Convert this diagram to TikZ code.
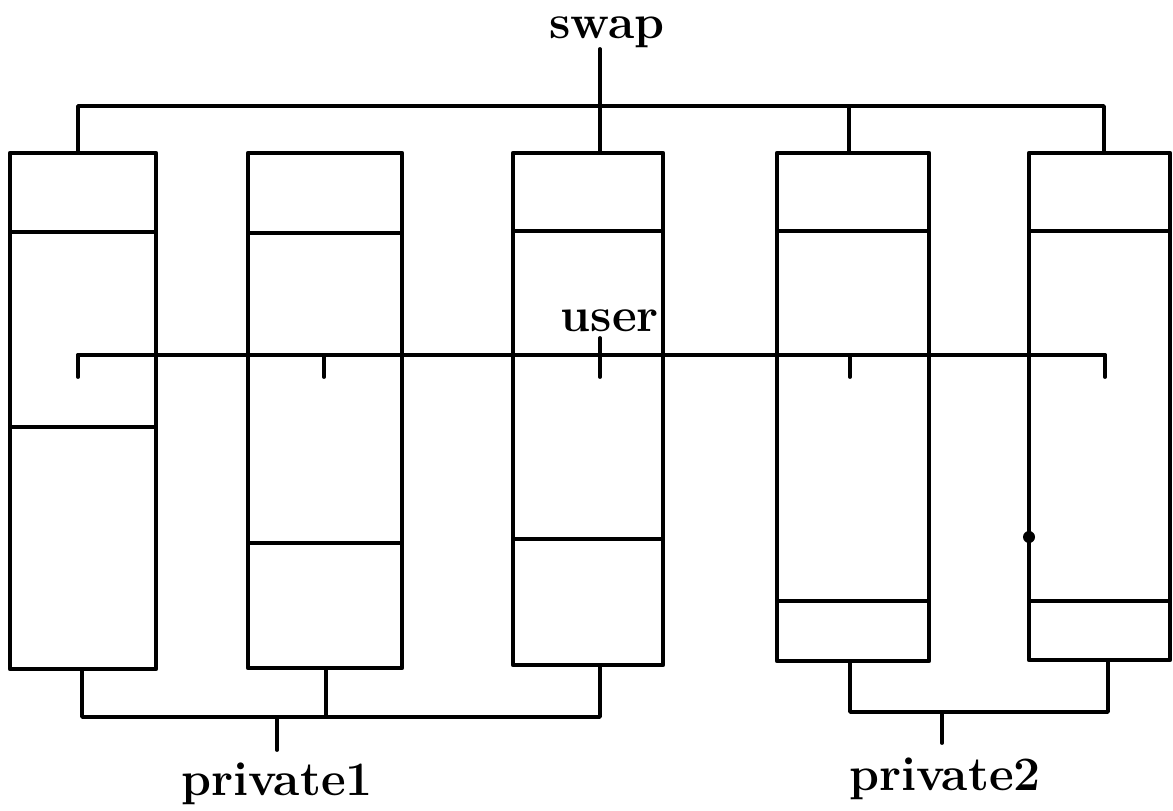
\documentclass[tikz,border=0pt]{standalone}
\begin{document}
\begin{tikzpicture}[x=1pt,y=-1pt,
  colbox/.style={draw, line width=4.4pt, inner sep=0pt, outer sep=0pt, line join=round},
  divider/.style={line width=4pt},
  conn/.style={line width=3.8pt, line cap=round, line join=round},
  lab/.style={font=\fontsize{48}{50}\selectfont\bfseries, inner sep=0pt, anchor=base}]
\useasboundingbox (0,0) rectangle (1173,811);

% memory columns
\node[colbox, minimum width=146pt, minimum height=516pt] (b1) at (83,411) {};
\node[colbox, minimum width=154pt, minimum height=515pt] (b2) at (325,410.5) {};
\node[colbox, minimum width=150pt, minimum height=512pt] (b3) at (588,409) {};
\node[colbox, minimum width=152pt, minimum height=508pt] (b4) at (853,407) {};
\node[colbox, minimum width=141pt, minimum height=507pt] (b5) at (1099.5,406.5) {};

% section boundaries inside each column
\foreach \b/\u/\l in {b1/79/274, b2/80/390, b3/78/386, b4/78/448, b5/78/448} {
  \draw[divider] ([yshift=-\u pt]\b.north west) -- ([yshift=-\u pt]\b.north east);
  \draw[divider] ([yshift=-\l pt]\b.north west) -- ([yshift=-\l pt]\b.north east);
}

% labels
\node[lab] (swap) at (607,38) {swap};
\node[lab] (user) at (610,331) {user};
\node[lab] (priv1) at (277,795) {private1};
\node[lab] (priv2) at (945,790) {private2};

% swap bracket
\coordinate (swL) at (78,106);
\coordinate (swM) at (600,106);
\coordinate (swQ) at (849,106);
\coordinate (swR) at (1104,106);
\coordinate (swTop) at (600,49);
\draw[conn] (swL |- b1.north) -- (swL) -- (swR) -- (swR |- b5.north);
\draw[conn] (swTop) -- (swM |- b3.north);
\draw[conn] (swQ) -- (swQ |- b4.north);

% user bracket
\coordinate (usL) at (78,355);
\coordinate (usR) at (1105,355);
\coordinate (usTop) at (600,338);
\draw[conn] (usL) -- (usR);
\foreach \x in {78,324,600,850,1105}
  \draw[conn] (\x,355) -- (\x,377);
\draw[conn] (usTop) -- (600,355);

% private1 bracket
\coordinate (p1L) at (82,717);
\coordinate (p1M) at (326,717);
\coordinate (p1R) at (600,717);
\coordinate (p1T) at (277,717);
\draw[conn] (p1L |- b1.south) -- (p1L) -- (p1R) -- (p1R |- b3.south);
\draw[conn] (p1M |- b2.south) -- (p1M);
\draw[conn] (p1T) -- (277,750);

% private2 bracket
\coordinate (p2L) at (850,712);
\coordinate (p2R) at (1108,712);
\coordinate (p2T) at (942,712);
\draw[conn] (p2L |- b4.south) -- (p2L) -- (p2R) -- (p2R |- b5.south);
\draw[conn] (p2T) -- (942,743);

% marker on the last column
\fill (b5.west |- 0,537) circle (6pt);
\end{tikzpicture}
\end{document}
